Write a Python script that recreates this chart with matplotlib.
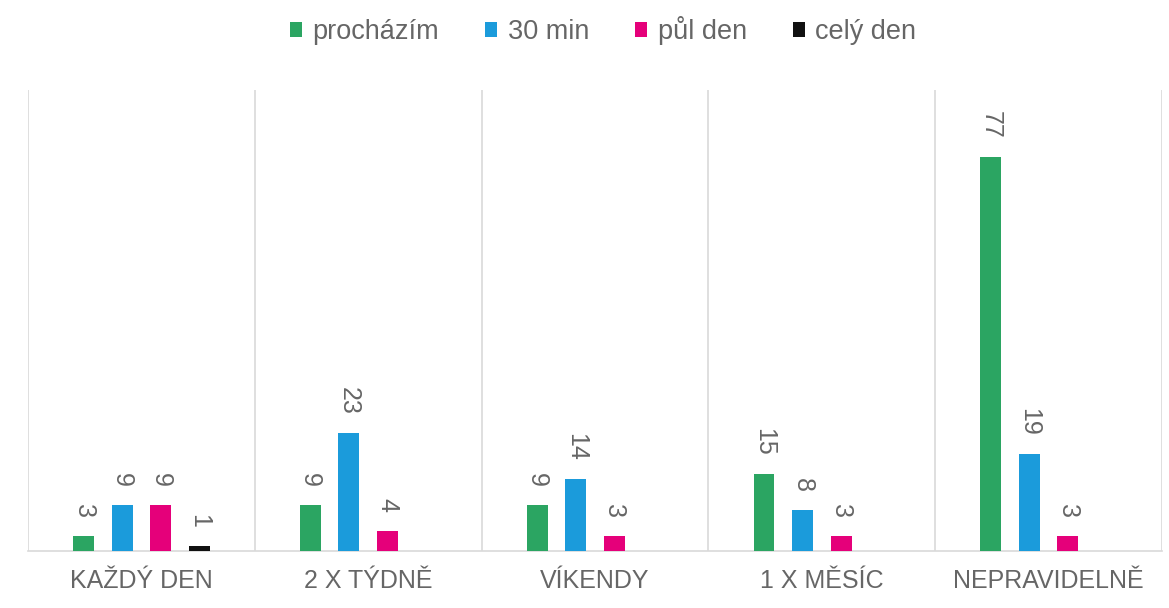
import matplotlib
matplotlib.use("Agg")
import matplotlib.pyplot as plt
from matplotlib.patches import Patch
import numpy as np

categories = ["KAŽDÝ DEN", "2 X TÝDNĚ", "VÍKENDY", "1 X MĚSÍC", "NEPRAVIDELNĚ"]
series_names = ["procházím", "30 min", "půl den", "celý den"]
prochazim = [3, 9, 9, 15, 77]
min30 = [9, 23, 14, 8, 19]
pulden = [9, 4, 3, 3, 3]
celyden = [1, None, None, None, None]
colors = ["#2BA562", "#1B9BDB", "#E5007A", "#111111"]

series = [prochazim, min30, pulden, celyden]

plt.rcParams['font.family'] = ['Liberation Sans', 'DejaVu Sans']
text_color = "#666666"
grid_color = "#D9D9D9"

fig = plt.figure(figsize=(11.69, 6.08), dpi=100)
ax = fig.add_axes([28/1169, 57/608, 1134/1169, 461/608])

x = np.arange(len(categories))
bar_w = 0.092
step = 0.170
for i, (vals, col) in enumerate(zip(series, colors)):
    offs = (i - 1.5) * step
    for xi, v in zip(x, vals):
        if v is None:
            continue
        ax.bar(xi + offs, v, width=bar_w, color=col, zorder=3)
        ax.annotate(str(v), xy=(xi + offs, v), xytext=(0, 13), textcoords="offset points",
                    rotation=270, ha="center", va="bottom", fontsize=18, color=text_color)

ax.set_xlim(-0.5, len(categories) - 0.5)
ax.set_ylim(0, 90)
ax.set_yticks([])
ax.set_xticks(x)
ax.set_xticklabels(categories, fontsize=18, color=text_color)
ax.tick_params(axis="x", length=0, pad=13)
ax.set_xticks(np.arange(-0.5, len(categories), 1.0), minor=True)
ax.tick_params(axis="x", which="minor", length=0)
ax.grid(axis="x", which="minor", color=grid_color, linewidth=1.2, zorder=0)
ax.grid(axis="x", which="major", visible=False)
for s in ["top", "left", "right"]:
    ax.spines[s].set_visible(False)
ax.spines["bottom"].set_color(grid_color)
ax.spines["bottom"].set_linewidth(1.2)

handles = [Patch(facecolor=c, edgecolor="none") for c in colors]
leg = fig.legend(handles, series_names, loc="center", bbox_to_anchor=(0.516, 0.95), ncol=4,
                 frameon=False, fontsize=19.5, handlelength=0.45, handleheight=0.45,
                 handletextpad=0.38, columnspacing=1.7)
for t in leg.get_texts():
    t.set_color(text_color)

fig.savefig("out.png", dpi=100, facecolor="white")
